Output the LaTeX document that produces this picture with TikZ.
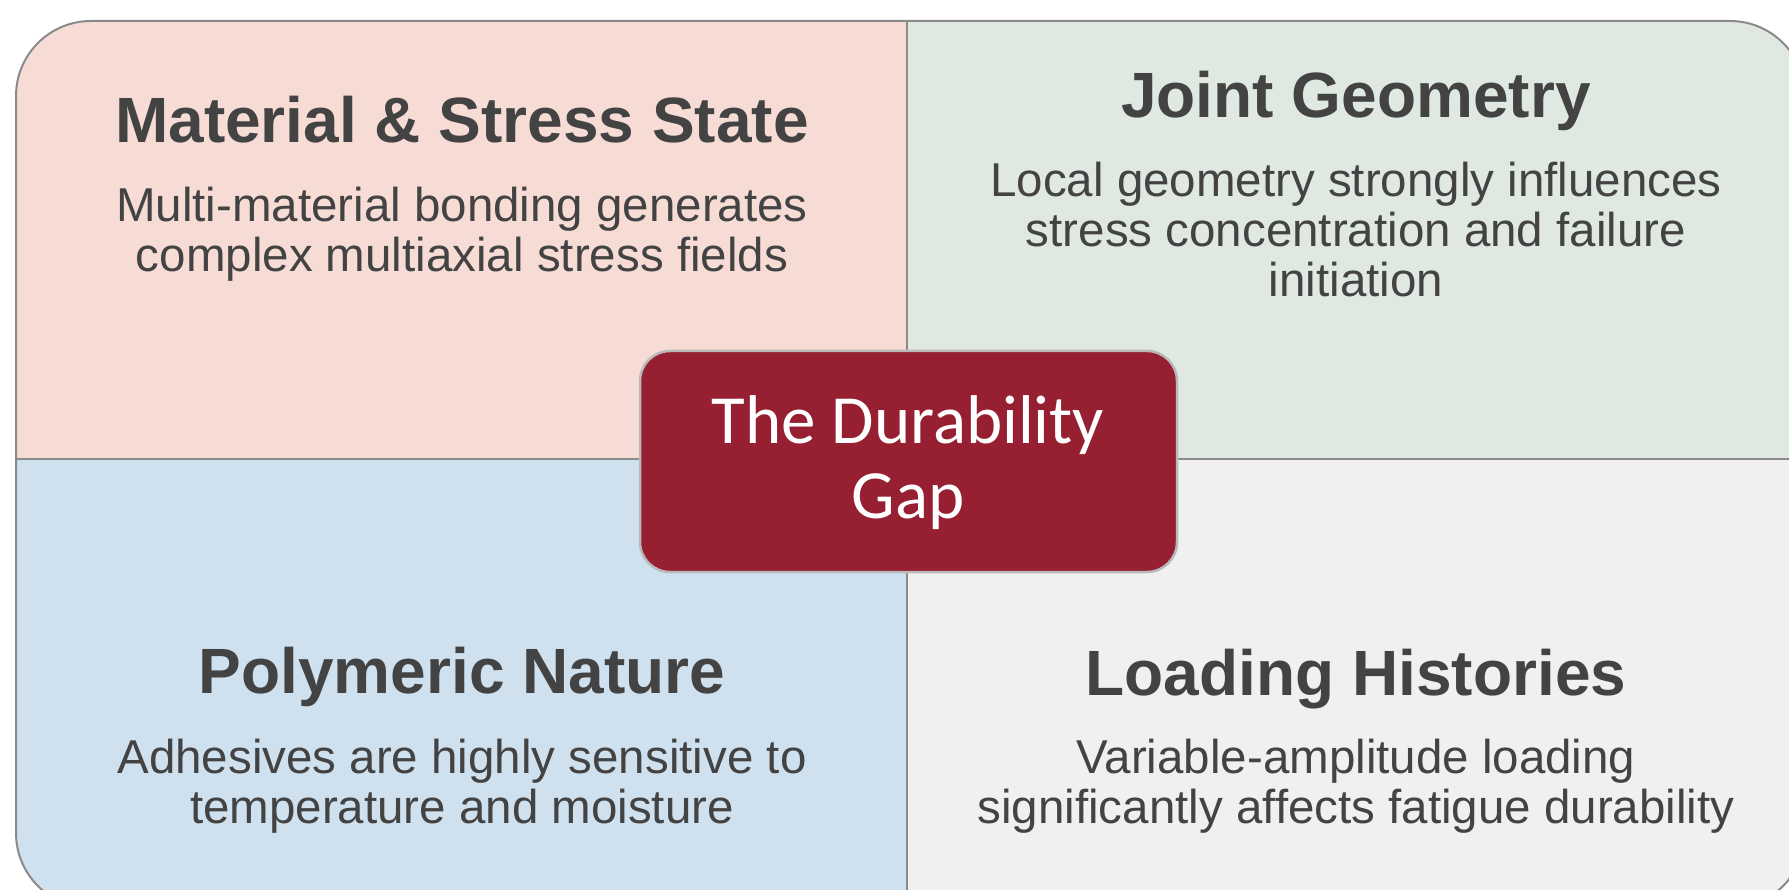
\documentclass[tikz,border=0pt]{standalone}
\usepackage{fontspec}
\setmainfont{Liberation Sans}
\newfontfamily\gapfont{Carlito}
\definecolor{inktext}{HTML}{434343}
\definecolor{qpink}{HTML}{F7DCD6}
\definecolor{qgreen}{HTML}{DFE8E1}
\definecolor{qblue}{HTML}{CFE0EE}
\definecolor{qgray}{HTML}{F0F0F0}
\definecolor{gapred}{HTML}{961F31}
\definecolor{rimgray}{HTML}{8A8A8A}
\begin{document}
\begin{tikzpicture}[x=1pt,y=-1pt,
  % multi-line nodes sit on the baseline of their last line
  heading/.style={inner sep=0pt,anchor=base,text=inktext,font=\fontsize{64}{70}\selectfont\bfseries},
  detail/.style={inner sep=0pt,anchor=base,text=inktext,align=center,font=\fontsize{47.5}{50}\selectfont},
  gapbox/.style={draw=gray!55,line width=2.5pt,fill=gapred,rounded corners=30pt,
    minimum width=537pt,minimum height=221pt,inner sep=0pt},
  gaplabel/.style={inner sep=0pt,anchor=base,text=white,align=center,
    font=\gapfont\fontsize{69}{75}\selectfont}]
\useasboundingbox (0,0) rectangle (1789,890);
\clip (0,0) rectangle (1789,890);
% four tinted quadrants inside the rounded frame
\begin{scope}
  \clip[rounded corners=75pt] (16,21) rectangle (1805,908);
  \fill[qpink]  (16,21)   rectangle (907,459);
  \fill[qgreen] (907,21)  rectangle (1805,459);
  \fill[qblue]  (16,459)  rectangle (907,908);
  \fill[qgray]  (907,459) rectangle (1805,908);
\end{scope}
\draw[rimgray,line width=2pt] (907,21) -- (907,908);
\draw[rimgray,line width=2pt] (16,459) -- (1805,459);
\draw[rimgray,line width=2pt,rounded corners=75pt] (16,21) rectangle (1805,908);
% quadrant texts
\node[heading] (t1) at (462,143) {Material \& Stress State};
\node[detail]  (d1) at (462,272) {Multi-material bonding generates\\complex multiaxial stress fields};
\node[heading] (t2) at (1356,118) {Joint Geometry};
\node[detail]  (d2) at (1356,297) {Local geometry strongly influences\\stress concentration and failure\\initiation};
\node[heading] (t3) at (462,693) {Polymeric Nature};
\node[detail]  (d3) at (462,823) {Adhesives are highly sensitive to\\temperature and moisture};
\node[heading] (t4) at (1356,695) {Loading Histories};
\node[detail]  (d4) at (1356,823) {Variable-amplitude loading\\significantly affects fatigue durability};
% central label
\node[gapbox] (gap) at (908.5,461.5) {};
\node[gaplabel] (gaptext) at (908,518) {The Durability\\Gap};
\end{tikzpicture}
\end{document}
